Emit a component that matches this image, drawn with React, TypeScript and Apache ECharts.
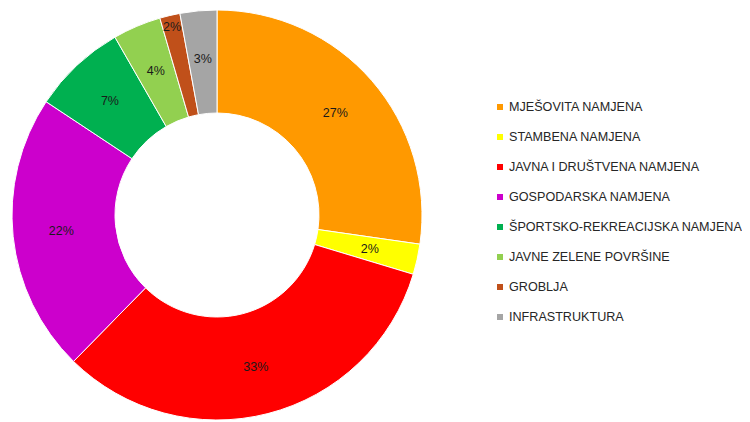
import React, { useEffect, useRef } from "react";
import * as echarts from "echarts";

const categories = [
  "MJEŠOVITA NAMJENA",
  "STAMBENA NAMJENA",
  "JAVNA I DRUŠTVENA NAMJENA",
  "GOSPODARSKA NAMJENA",
  "ŠPORTSKO-REKREACIJSKA NAMJENA",
  "JAVNE ZELENE POVRŠINE",
  "GROBLJA",
  "INFRASTRUKTURA",
];
const values = [27.3, 2.4, 32.7, 22.0, 7.4, 3.8, 1.6, 2.9];
const colors = ["#FF9900", "#FFFF00", "#FF0000", "#CC00CC", "#00B050", "#92D050", "#C0501A", "#A5A5A5"];

export default function App() {
  const ref = useRef<HTMLDivElement>(null);
  useEffect(() => {
    if (!ref.current) return;
    const chart = echarts.init(ref.current, null, { renderer: "svg" });
    const total = values.reduce((a, b) => a + b, 0);
    chart.setOption({
      animation: false,
      color: colors,
      legend: {
        orient: "vertical",
        left: 482,
        top: 87,
        icon: "rect",
        itemWidth: 8,
        itemHeight: 8,
        itemGap: 16,
        data: categories,
        textStyle: { fontFamily: "Liberation Sans", fontSize: 12.6, color: "#262626", lineHeight: 14 },
      },
      series: [
        {
          type: "pie",
          center: [209, 207],
          radius: [102, 205],
          startAngle: 90,
          clockwise: true,
          avoidLabelOverlap: false,
          itemStyle: { borderColor: "#ffffff", borderWidth: 1 },
          label: {
            position: "inside",
            fontFamily: "Liberation Sans",
            fontSize: 12.5,
            color: "#1a1a1a",
            formatter: (p: any) => Math.round((p.value / total) * 100) + "%",
          },
          labelLine: { show: false },
          emphasis: { disabled: true },
          data: categories.map((c, i) =>
            i === 6
              ? { name: c, value: values[i], label: { offset: [-9, -36] } }
              : { name: c, value: values[i] }
          ),
        },
      ],
    });
    return () => chart.dispose();
  }, []);
  return <div ref={ref} style={{ width: 742, height: 414 }} />;
}
